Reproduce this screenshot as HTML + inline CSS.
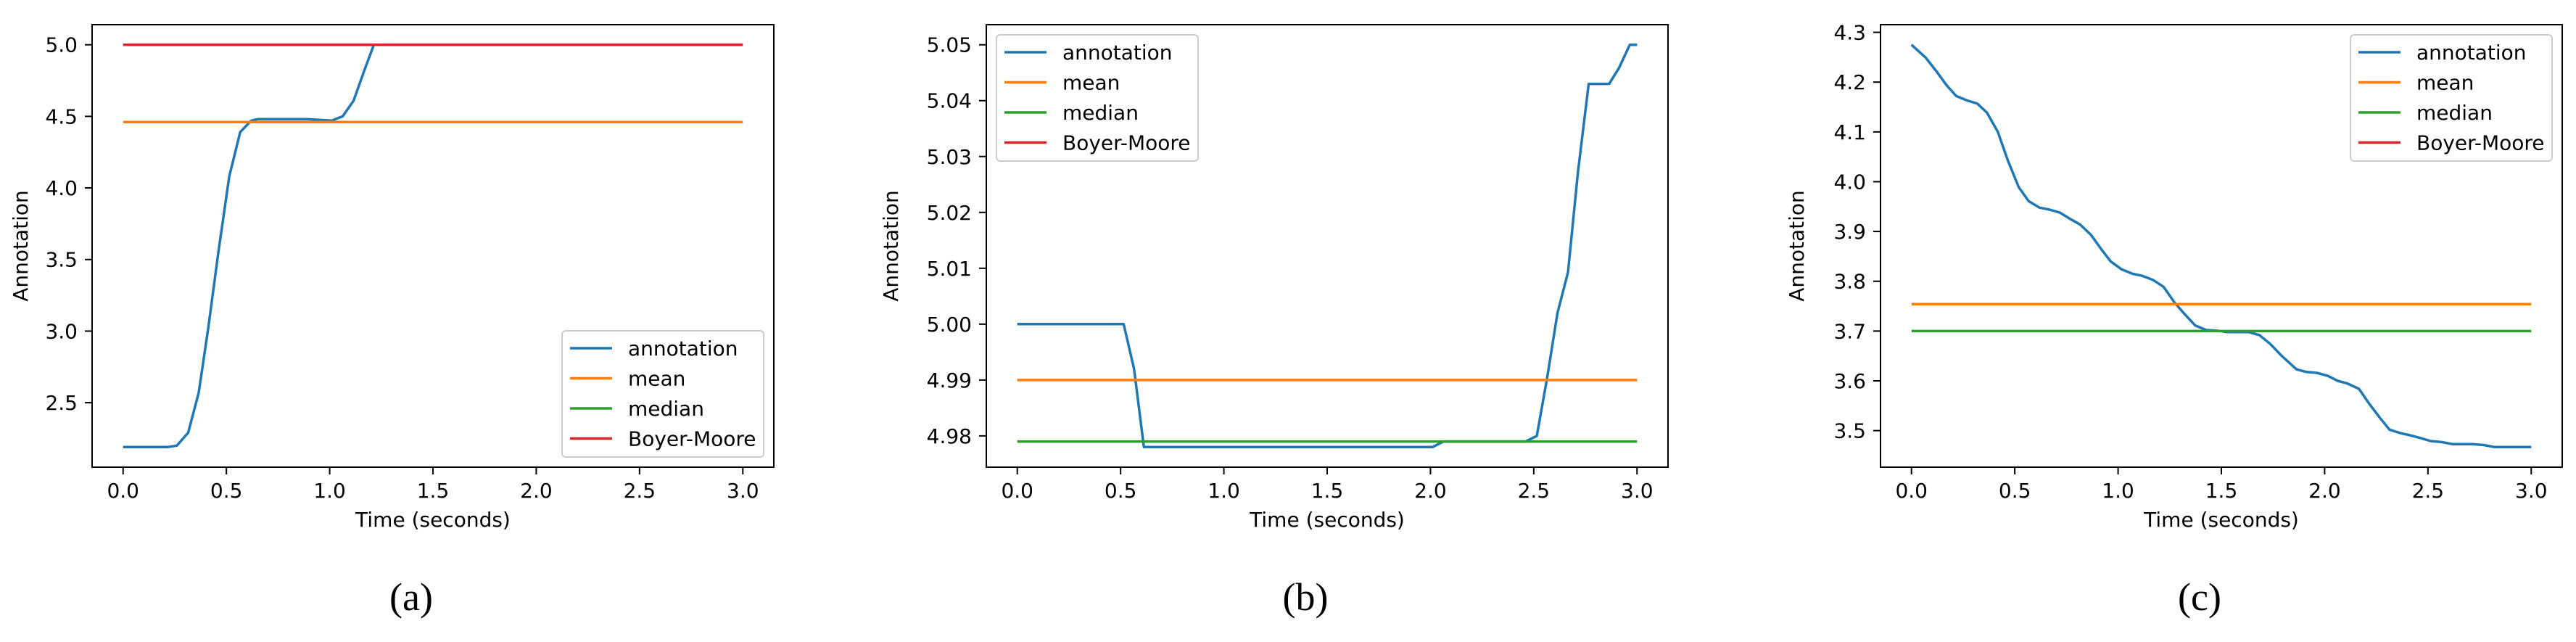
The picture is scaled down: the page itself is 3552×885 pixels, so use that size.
<!DOCTYPE html>
<html><head><meta charset="utf-8"><style>
html,body{margin:0;padding:0;background:#fff;}
svg{display:block;font-family:"DejaVu Sans","Liberation Sans",sans-serif;}
</style></head><body>
<svg id="fig" width="3552" height="885" viewBox="0 0 3552 885"></svg>
<script>
// Panel (a)
const aTimes = [0,0.215,0.26,0.315,0.366,0.413,0.46,0.514,0.567,0.62,0.65,0.89,1.01,1.063,1.116,1.17,1.214];
const aValues = [2.19,2.19,2.20,2.29,2.57,3.03,3.54,4.08,4.39,4.47,4.48,4.48,4.47,4.50,4.61,4.83,5.0];
const aMean = 4.46, aMedian = 5.0, aBoyer = 5.0;
const aYTicks = [2.5,3.0,3.5,4.0,4.5,5.0];
const aYTickLabels = ["2.5","3.0","3.5","4.0","4.5","5.0"];
// Panel (b)
const bTimes = [0,0.515,0.565,0.613,2.01,2.063,2.46,2.515,2.566,2.615,2.666,2.714,2.766,2.865,2.912,2.965,3.0];
const bValues = [5.0,5.0,4.992,4.978,4.978,4.979,4.979,4.980,4.9906,5.002,5.0093,5.0272,5.043,5.043,5.0458,5.05,5.05];
const bMean = 4.990, bMedian = 4.979, bBoyer = null;
const bYTicks = [4.98,4.99,5.00,5.01,5.02,5.03,5.04,5.05];
const bYTickLabels = ["4.98","4.99","5.00","5.01","5.02","5.03","5.04","5.05"];
// Panel (c)
const cTimes = [0,0.069,0.122,0.169,0.217,0.27,0.318,0.365,0.418,0.466,0.519,0.567,0.62,0.667,0.718,0.765,0.816,0.869,0.916,0.964,1.017,1.07,1.117,1.168,1.22,1.274,1.32,1.374,1.427,1.477,1.525,1.631,1.684,1.737,1.79,1.864,1.909,1.962,2.015,2.063,2.108,2.166,2.214,2.267,2.314,2.367,2.42,2.465,2.513,2.566,2.619,2.717,2.77,2.823,3.0];
const cValues = [4.275,4.249,4.221,4.194,4.172,4.163,4.157,4.139,4.10,4.043,3.989,3.961,3.948,3.944,3.938,3.926,3.914,3.893,3.866,3.84,3.824,3.815,3.811,3.803,3.789,3.757,3.735,3.711,3.702,3.701,3.698,3.698,3.692,3.674,3.651,3.623,3.618,3.616,3.610,3.60,3.595,3.584,3.555,3.526,3.502,3.495,3.490,3.485,3.479,3.477,3.473,3.473,3.471,3.467,3.467];
const cMean = 3.754, cMedian = 3.70, cBoyer = null;
const cYTicks = [3.5,3.6,3.7,3.8,3.9,4.0,4.1,4.2,4.3];
const cYTickLabels = ["3.5","3.6","3.7","3.8","3.9","4.0","4.1","4.2","4.3"];

const xTicks = [0,0.5,1.0,1.5,2.0,2.5,3.0];
const xTickLabels = ["0.0","0.5","1.0","1.5","2.0","2.5","3.0"];
const legendLabels = ["annotation","mean","median","Boyer-Moore"];
const COLORS = ["#1f77b4","#ff7f0e","#2ca02c","#d62728"];

const NS = "http://www.w3.org/2000/svg";
const svg = document.getElementById('fig');
function mk(tag, attrs, parent){
  const e = document.createElementNS(NS, tag);
  for (const k in attrs) e.setAttribute(k, attrs[k]);
  (parent||svg).appendChild(e);
  return e;
}

function panel(id, left, caption, times, values, mean, median, boyer, yTicks, yLabels, legendPos){
  const top = 34, W = 940, H = 610, bottom = top + H;
  const g = mk('g', {});
  
  
  const hs = [mean, median, boyer].filter(v => v !== null);
  let lo = Math.min(...values, ...hs), hi = Math.max(...values, ...hs);
  const r = hi - lo; lo -= 0.05*r; hi += 0.05*r;
  const xs = t => left + (t + 0.15) / 3.3 * W;
  const ys = v => bottom - (v - lo) / (hi - lo) * H;

  const clip = mk('clipPath', {id: 'clip-' + id}, g);
  mk('rect', {x: left, y: top, width: W, height: H}, clip);
  const plot = mk('g', {'clip-path': 'url(#clip-' + id + ')'}, g);

  const pts = times.map((t,i) => xs(t).toFixed(1) + ',' + ys(values[i]).toFixed(1)).join(' ');
  const line = mk('polyline', {points: pts, fill: 'none', stroke: COLORS[0], 'stroke-width': 3.5, 'stroke-linejoin': 'round'}, plot);
  
  
  const hl = [[mean, 1, 'mean-line'], [median, 2, 'median-line'], [boyer, 3, 'boyer-moore-line']];
  hl.forEach(([v, ci, nm]) => {
    if (v === null) return;
    const l = mk('line', {x1: xs(0), x2: xs(3), y1: ys(v), y2: ys(v), stroke: COLORS[ci], 'stroke-width': 3.5}, plot);
    
    
  });

  const frame = mk('rect', {x: left, y: top, width: W, height: H, fill: 'none', stroke: '#000', 'stroke-width': 2}, g);
  
  

  xTicks.forEach((t,i) => {
    const x = xs(t);
    mk('line', {x1: x, x2: x, y1: bottom, y2: bottom + 10, stroke: '#000', 'stroke-width': 2}, g);
    const tx = mk('text', {x: x, y: bottom + 42, 'font-size': 28, 'text-anchor': 'middle'}, g);
    tx.textContent = xTickLabels[i];
    
    
  });
  yTicks.forEach((v,i) => {
    const y = ys(v);
    mk('line', {x1: left - 10, x2: left, y1: y, y2: y, stroke: '#000', 'stroke-width': 2}, g);
    const tx = mk('text', {x: left - 20, y: y + 10, 'font-size': 28, 'text-anchor': 'end'}, g);
    tx.textContent = yLabels[i];
    
    
  });
  const xl = mk('text', {x: left + W/2, y: 726, 'font-size': 28, 'text-anchor': 'middle'}, g);
  xl.textContent = 'Time (seconds)';
  
  
  const ylx = left - (id === 'a' ? 80 : (id === 'b' ? 113 : 97)) - 9;
  const yl = mk('text', {x: ylx, y: 339, 'font-size': 28, 'text-anchor': 'middle', transform: 'rotate(-90 ' + ylx + ' 339)'}, g);
  yl.textContent = 'Annotation';
  
  

  const cap = mk('text', {x: left + W/2 - 30, y: 841, 'font-size': 54, 'text-anchor': 'middle', 'font-family': '"Liberation Serif", serif'}, g);
  cap.textContent = caption;
  
  

  const [lx, ly] = legendPos;
  const lg = mk('g', {}, g);
  
  
  mk('rect', {x: lx, y: ly, width: 278, height: 174, rx: 5, fill: '#fff', 'fill-opacity': 0.8, stroke: '#cccccc', 'stroke-width': 2}, lg);
  legendLabels.forEach((lab, i) => {
    const ey = ly + 24 + i * 41.5;
    const ent = mk('g', {}, lg);
    
    
    mk('line', {x1: lx + 11, x2: lx + 69, y1: ey, y2: ey, stroke: COLORS[i], 'stroke-width': 3.5}, ent);
    const t = mk('text', {x: lx + 91, y: ey + 10, 'font-size': 28}, ent);
    t.textContent = lab;
  });
}

panel('a', 127, '(a)', aTimes, aValues, aMean, aMedian, aBoyer, aYTicks, aYTickLabels, [775, 456]);
panel('b', 1360, '(b)', bTimes, bValues, bMean, bMedian, bBoyer, bYTicks, bYTickLabels, [1374, 48]);
panel('c', 2593, '(c)', cTimes, cValues, cMean, cMedian, cBoyer, cYTicks, cYTickLabels, [3241, 48]);
</script>
</body></html>
